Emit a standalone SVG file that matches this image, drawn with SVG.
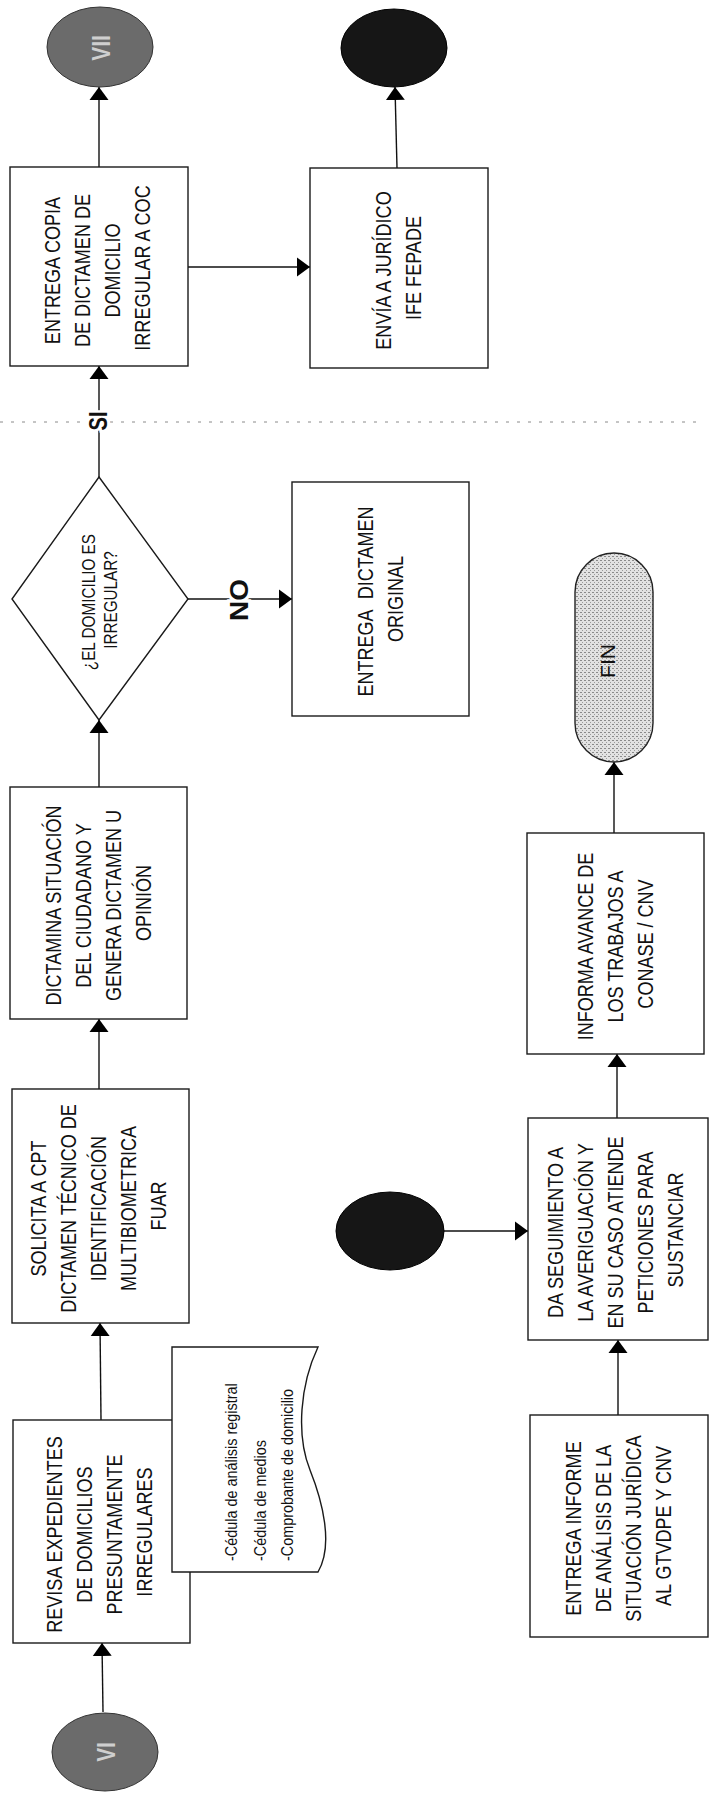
<svg xmlns="http://www.w3.org/2000/svg" width="712" height="1802" viewBox="0 0 712 1802">
<style>
.bx{fill:#fff;stroke:#1a1a1a;stroke-width:1.4}
.ln{fill:none;stroke:#111;stroke-width:1.4;marker-end:url(#ah)}
.t{font-family:"Liberation Sans",Arial,sans-serif;font-size:22px;text-anchor:middle;fill:#111}
.ts{font-family:"Liberation Sans",Arial,sans-serif;font-size:18px;text-anchor:middle;fill:#111}
.doc{font-family:"Liberation Sans",Arial,sans-serif;font-size:16px;fill:#111}
.lb{font-family:"Liberation Sans",Arial,sans-serif;font-size:25px;font-weight:bold;text-anchor:middle;fill:#111;stroke:#fff;stroke-width:6;paint-order:stroke}
.el{font-family:"Liberation Sans",Arial,sans-serif;font-size:26px;font-weight:bold;text-anchor:middle;fill:#cfcfcf}
.gray{fill:#6b6b6b;stroke:#333;stroke-width:1}
.blk{fill:#161616;stroke:#000;stroke-width:1}
</style>
<defs>
<marker id="ah" markerUnits="userSpaceOnUse" markerWidth="14" markerHeight="20" refX="13" refY="10" orient="auto">
<path d="M0,0.5 L13,10 L0,19.5 z" fill="#000"/>
</marker>
<pattern id="dots" width="4" height="4" patternUnits="userSpaceOnUse">
<rect width="4" height="4" fill="#e2e2e2"/>
<rect x="0" y="0" width="2" height="1" fill="#8a8a8a"/>
<rect x="2" y="2" width="1" height="1" fill="#9a9a9a"/>
</pattern>
</defs>

<line x1="0" y1="422" x2="700" y2="422" stroke="#8a8a8a" stroke-width="1" stroke-dasharray="3 8"/>

<g id="connectors">
<line class="ln" x1="103" y1="1712" x2="102" y2="1643"/>
<line class="ln" x1="101" y1="1420" x2="100" y2="1323"/>
<line class="ln" x1="99" y1="1089" x2="99" y2="1019"/>
<line class="ln" x1="99" y1="787" x2="99" y2="720"/>
<line class="ln" x1="99" y1="477" x2="99" y2="366"/>
<line class="ln" x1="188" y1="599" x2="292" y2="599"/>
<line class="ln" x1="99" y1="167" x2="99" y2="87"/>
<line class="ln" x1="188" y1="267" x2="310" y2="267"/>
<line class="ln" x1="397" y1="168" x2="395" y2="87"/>
<line class="ln" x1="444" y1="1231" x2="528" y2="1231"/>
<line class="ln" x1="618" y1="1415" x2="618" y2="1340"/>
<line class="ln" x1="617" y1="1118" x2="617" y2="1054"/>
<line class="ln" x1="614" y1="833" x2="614" y2="762"/>
<text class="lb" transform="translate(98,421) rotate(-90)" y="9" textLength="19" lengthAdjust="spacingAndGlyphs">SI</text>
<text class="lb" transform="translate(239,600) rotate(-90)" y="9" textLength="42" lengthAdjust="spacingAndGlyphs">NO</text>
</g>

<g id="n-vii">
<ellipse class="gray" cx="100" cy="47" rx="53" ry="40"/>
<text class="el" transform="translate(101,48) rotate(-90) scale(0.8,1)" y="9">VII</text>
</g>

<g id="n-black-top">
<ellipse class="blk" cx="394" cy="48" rx="53" ry="39"/>
</g>

<g id="n-entrega-copia">
<rect class="bx" x="10" y="167" width="178" height="199"/>
<text class="t" transform="translate(97,268) rotate(-90) scale(0.82,1)">
<tspan x="0" y="-37">ENTREGA COPIA</tspan>
<tspan x="0" dy="30">DE DICTAMEN DE</tspan>
<tspan x="0" dy="30">DOMICILIO</tspan>
<tspan x="0" dy="30">IRREGULAR A COC</tspan>
</text>
</g>

<g id="n-envia">
<rect class="bx" x="310" y="168" width="178" height="200"/>
<text class="t" transform="translate(398,268) rotate(-90) scale(0.82,1)">
<tspan x="0" y="-7">ENVÍA A JURÍDICO</tspan>
<tspan x="0" dy="30">IFE FEPADE</tspan>
</text>
</g>

<g id="n-decision">
<polygon class="bx" points="99,477 188,599 99,720 12,599"/>
<text class="ts" transform="translate(100,600) rotate(-90) scale(0.85,1)">
<tspan x="0" y="-5">¿EL DOMICILIO ES</tspan>
<tspan x="0" dy="22">IRREGULAR?</tspan>
</text>
</g>

<g id="n-entrega-original">
<rect class="bx" x="292" y="482" width="177" height="234"/>
<text class="t" transform="translate(380,599) rotate(-90) scale(0.82,1)">
<tspan x="0" y="-7">ENTREGA&#160; DICTAMEN</tspan>
<tspan x="0" dy="30">ORIGINAL</tspan>
</text>
</g>

<g id="n-fin">
<rect x="575" y="553" width="78" height="209" rx="39" ry="39" fill="url(#dots)" stroke="#222" stroke-width="1.4"/>
<text class="t" transform="translate(607,661) rotate(-90)" y="7.5" style="font-size:21px">FIN</text>
</g>

<g id="n-dictamina">
<rect class="bx" x="10" y="787" width="177" height="232"/>
<text class="t" transform="translate(98,903) rotate(-90) scale(0.82,1)">
<tspan x="0" y="-37">DICTAMINA SITUACIÓN</tspan>
<tspan x="0" dy="30">DEL CIUDADANO Y</tspan>
<tspan x="0" dy="30">GENERA DICTAMEN U</tspan>
<tspan x="0" dy="30">OPINIÓN</tspan>
</text>
</g>

<g id="n-informa">
<rect class="bx" x="527" y="833" width="177" height="221"/>
<text class="t" transform="translate(615,944) rotate(-90) scale(0.82,1)">
<tspan x="0" y="-22">INFORMA AVANCE DE</tspan>
<tspan x="0" dy="30">LOS TRABAJOS A</tspan>
<tspan x="0" dy="30">CONASE / CNV</tspan>
</text>
</g>

<g id="n-solicita">
<rect class="bx" x="12" y="1089" width="177" height="234"/>
<text class="t" transform="translate(98,1206) rotate(-90) scale(0.82,1)">
<tspan x="0" y="-52">SOLICITA A CPT</tspan>
<tspan x="0" dy="30">DICTAMEN TÉCNICO DE</tspan>
<tspan x="0" dy="30">IDENTIFICACIÓN</tspan>
<tspan x="0" dy="30">MULTIBIOMETRICA</tspan>
<tspan x="0" dy="30">FUAR</tspan>
</text>
</g>

<g id="n-black-mid">
<ellipse class="blk" cx="390" cy="1231" rx="54" ry="39"/>
</g>

<g id="n-seguimiento">
<rect class="bx" x="528" y="1118" width="180" height="222"/>
<text class="t" transform="translate(615,1230) rotate(-90) scale(0.82,1)">
<tspan x="0" y="-52">DA SEGUIMIENTO A</tspan>
<tspan x="0" dy="30">LA AVERIGUACIÓN Y</tspan>
<tspan x="0" dy="30">EN SU CASO ATIENDE</tspan>
<tspan x="0" dy="30">PETICIONES PARA</tspan>
<tspan x="0" dy="30">SUSTANCIAR</tspan>
</text>
</g>

<g id="n-revisa">
<rect class="bx" x="13" y="1420" width="177" height="223"/>
<text class="t" transform="translate(99,1532) rotate(-90) scale(0.82,1)">
<tspan x="0" y="-37">REVISA EXPEDIENTES</tspan>
<tspan x="0" dy="30">DE DOMICILIOS</tspan>
<tspan x="0" dy="30">PRESUNTAMENTE</tspan>
<tspan x="0" dy="30">IRREGULARES</tspan>
</text>
</g>

<g id="n-documento">
<path class="bx" d="M172,1347 L318,1347 C300,1385 296,1435 310,1470 C322,1500 334,1545 318,1572 L172,1572 Z"/>
<text class="doc" transform="translate(0,1561) rotate(-90) scale(0.9,1)">
<tspan x="0" y="237">-Cédula de análisis registral</tspan>
<tspan x="0" y="266">-Cédula de medios</tspan>
<tspan x="0" y="293">-Comprobante de domicilio</tspan>
</text>
</g>

<g id="n-entrega-informe">
<rect class="bx" x="530" y="1415" width="178" height="222"/>
<text class="t" transform="translate(618,1526) rotate(-90) scale(0.82,1)">
<tspan x="0" y="-37">ENTREGA INFORME</tspan>
<tspan x="0" dy="30">DE ANÁLISIS DE LA</tspan>
<tspan x="0" dy="30">SITUACIÓN JURÍDICA</tspan>
<tspan x="0" dy="30">AL GTVDPE Y CNV</tspan>
</text>
</g>

<g id="n-vi">
<ellipse class="gray" cx="105" cy="1752" rx="53" ry="39"/>
<text class="el" transform="translate(106,1752) rotate(-90) scale(0.8,1)" y="9">VI</text>
</g>
</svg>
